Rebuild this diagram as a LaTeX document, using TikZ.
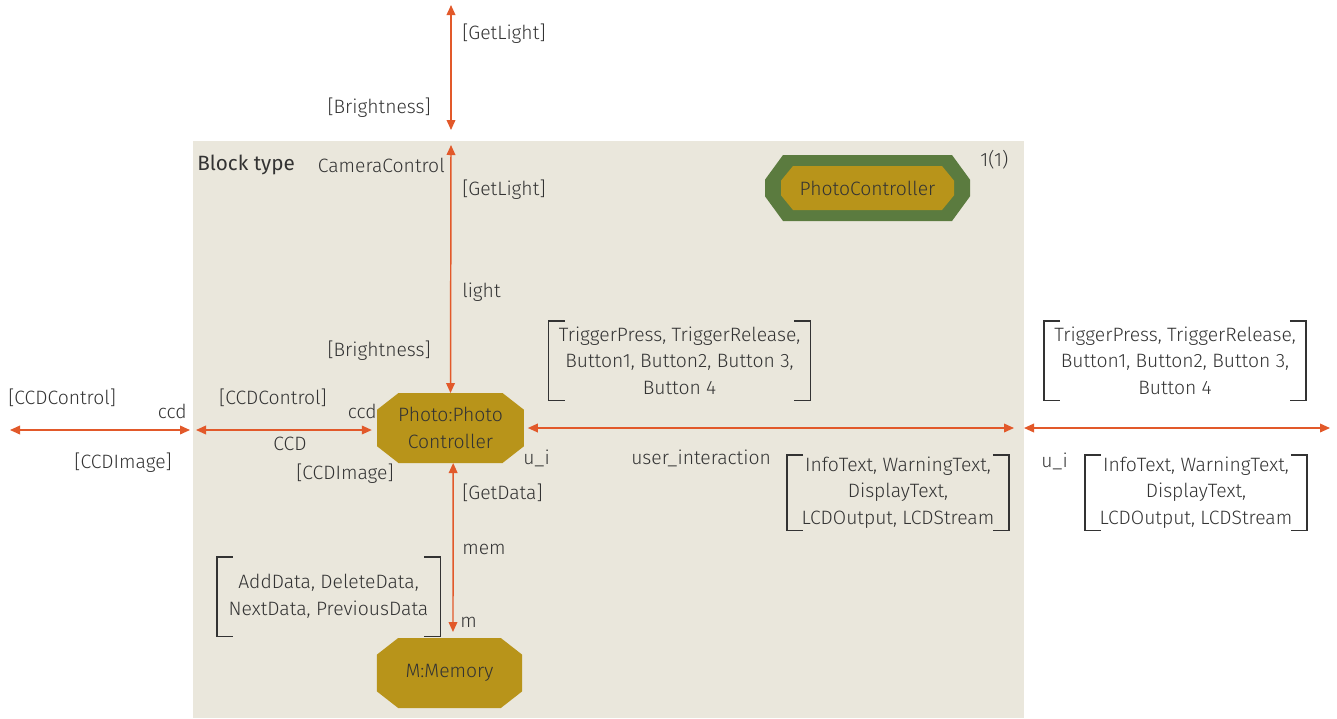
\documentclass[tikz,border=0pt]{standalone}
\usepackage{fontspec}
\setmainfont{Fira Sans Light}
\newfontfamily\headfont{Fira Sans}
\usetikzlibrary{arrows.meta}
\definecolor{blockbg}{HTML}{EAE7DC}
\definecolor{partgold}{HTML}{B8941A}
\definecolor{typegreen}{HTML}{5B7B3F}
\definecolor{sigline}{HTML}{E2592A}
\definecolor{ink}{HTML}{333333}
\pgfdeclarelayer{frame}
\pgfdeclarelayer{shapes}
\pgfsetlayers{frame,shapes,main}
\tikzset{
  txt/.style={font=\fontsize{14.5}{20}\selectfont},
  lbl/.style={text=ink, inner sep=0pt, txt},
  sigbox/.style={lbl, align=center, minimum width=#1},
  part/.style={rectangle, draw=none, text=ink, inner sep=0pt, outer sep=0pt,
    minimum width=110pt, minimum height=52.5pt, align=center, txt},
  chan/.style={draw=sigline, line width=1.1pt,
    {Triangle[length=7.5pt,width=6.5pt]}-{Triangle[length=7.5pt,width=6.5pt]}},
  brk/.style={draw=ink, line width=0.9pt},
}
% octagon behind a node: #1 colour, #2 node, #3 horizontal cut, #4 vertical cut
\newcommand\octagonfill[4]{%
  \begin{pgfonlayer}{shapes}
  \fill[#1] ([xshift=#3]#2.north west) -- ([xshift=-#3]#2.north east)
    -- ([yshift=-#4]#2.north east) -- ([yshift=#4]#2.south east)
    -- ([xshift=-#3]#2.south east) -- ([xshift=#3]#2.south west)
    -- ([yshift=#4]#2.south west) -- ([yshift=-#4]#2.north west) -- cycle;
  \end{pgfonlayer}}
\newcommand\bracketize[1]{%
  \draw[brk] ([xshift=12pt]#1.north west) -| (#1.south west) -- ++(16,0);
  \draw[brk] ([xshift=-12pt]#1.north east) -| (#1.south east) -- ++(-16,0);}
\begin{document}
\begin{tikzpicture}[x=0.75pt,y=-0.75pt]
\useasboundingbox (0,0) rectangle (1337,718);
% block frame
\begin{pgfonlayer}{frame}
\fill[blockbg] (193,141) rectangle (1024,718);
\end{pgfonlayer}

% parts and block type symbol
\node[part] (photo) at (450.5,428) {Photo:Photo\\Controller};
\octagonfill{partgold}{photo}{16pt}{12.5pt}
\node[part, minimum width=109pt] (memory) at (449.5,673) {M:Memory};
\octagonfill{partgold}{memory}{16pt}{12.5pt}
\node[part, minimum width=153.75pt, minimum height=49.5pt] (typeouter) at (867.5,188) {};
\node[part, minimum width=129.75pt, minimum height=33pt] (typeinner) at (867.5,188) {PhotoController};
\octagonfill{typegreen}{typeouter}{13.5pt}{18.5pt}
\begin{pgfonlayer}{shapes}
\fill[partgold] ([xshift=9pt]typeinner.north west) -- ([xshift=-9pt]typeinner.north east)
  -- ([yshift=-11pt]typeinner.north east) -- ([yshift=11pt]typeinner.south east)
  -- ([xshift=-9pt]typeinner.south east) -- ([xshift=9pt]typeinner.south west)
  -- ([yshift=11pt]typeinner.south west) -- ([yshift=-11pt]typeinner.north west) -- cycle;
\end{pgfonlayer}

% connector end points
\coordinate (extTop) at (451,5);
\coordinate (extTopIn) at (451,130);
\coordinate (blkTop) at (451,145);
\coordinate (extLeft) at (10,430);
\coordinate (extLeftIn) at (190,430);
\coordinate (blkLeft) at (196,430);
\coordinate (blkRight) at (1014,428);
\coordinate (extRightIn) at (1024,428);
\coordinate (extRight) at (1330,428);

% channels
\draw[chan] (extTop) -- (extTopIn);
\draw[chan] (blkTop) -- (photo.north);
\draw[chan] (extLeft) -- (extLeftIn);
\draw[chan] (blkLeft) -- ([xshift=-4pt,yshift=-1.5pt]photo.west);
\draw[chan] ([xshift=3pt]photo.east) -- (blkRight);
\draw[chan] (extRightIn) -- (extRight);
\draw[chan] ([xshift=2pt]photo.south) -- ([xshift=2.6pt,yshift=4.5pt]memory.north);

% labels
\node[lbl, anchor=west] (gl1) at (462,34) {[GetLight]};
\node[lbl, anchor=east] (br1) at (431,108) {[Brightness]};
\node[lbl, anchor=west, font=\headfont\fontsize{15.5}{20}\selectfont] (btype) at (197,165) {Block type};
\node[lbl, anchor=east] (camctl) at (445,165) {CameraControl};
\node[lbl, anchor=west] (gl2) at (462,190) {[GetLight]};
\node[lbl, anchor=west] (lightp) at (462,292) {light};
\node[lbl, anchor=east] (br2) at (431,351) {[Brightness]};
\node[lbl, anchor=west] (mult) at (980,160) {1(1)};

\node[lbl] (ccdc2) at (273,398) {[CCDControl]};
\node[lbl, anchor=east] (ccdp) at (377,411) {ccd};
\node[lbl] (ccdch) at (290,444) {CCD};
\node[lbl] (ccdi2) at (345,474) {[CCDImage]};
\node[lbl, anchor=west] (ccdc1) at (8,398) {[CCDControl]};
\node[lbl, anchor=east] (ccdb) at (187,411) {ccd};
\node[lbl, anchor=east] (ccdi1) at (172,463) {[CCDImage]};

\node[lbl, anchor=west] (uip) at (523,458) {u\_i};
\node[lbl, anchor=west] (uich) at (631,458) {user\_interaction};
\node[lbl, anchor=west] (uib) at (1041,461) {u\_i};

\node[lbl, anchor=west] (gd) at (462,493) {[GetData]};
\node[lbl, anchor=west] (memch) at (462,549) {mem};
\node[lbl, anchor=west] (mp) at (460,622) {m};

% signal lists
\node[sigbox=196pt, minimum height=59pt] (trig1) at (679.5,360.5)
  {TriggerPress, TriggerRelease,\\Button1, Button2, Button 3,\\Button 4};
\node[sigbox=166pt, minimum height=56pt] (info1) at (898,492.5)
  {InfoText, WarningText,\\DisplayText,\\LCDOutput, LCDStream};
\node[sigbox=196pt, minimum height=59pt] (trig2) at (1175,360.5)
  {TriggerPress, TriggerRelease,\\Button1, Button2, Button 3,\\Button 4};
\node[sigbox=166pt, minimum height=56pt] (info2) at (1196,492.5)
  {InfoText, WarningText,\\DisplayText,\\LCDOutput, LCDStream};
\node[sigbox=167pt, minimum height=59pt] (datasig) at (328.5,596.5)
  {AddData, DeleteData,\\NextData, PreviousData};
\bracketize{trig1}
\bracketize{info1}
\bracketize{trig2}
\bracketize{info2}
\bracketize{datasig}
\end{tikzpicture}
\end{document}
